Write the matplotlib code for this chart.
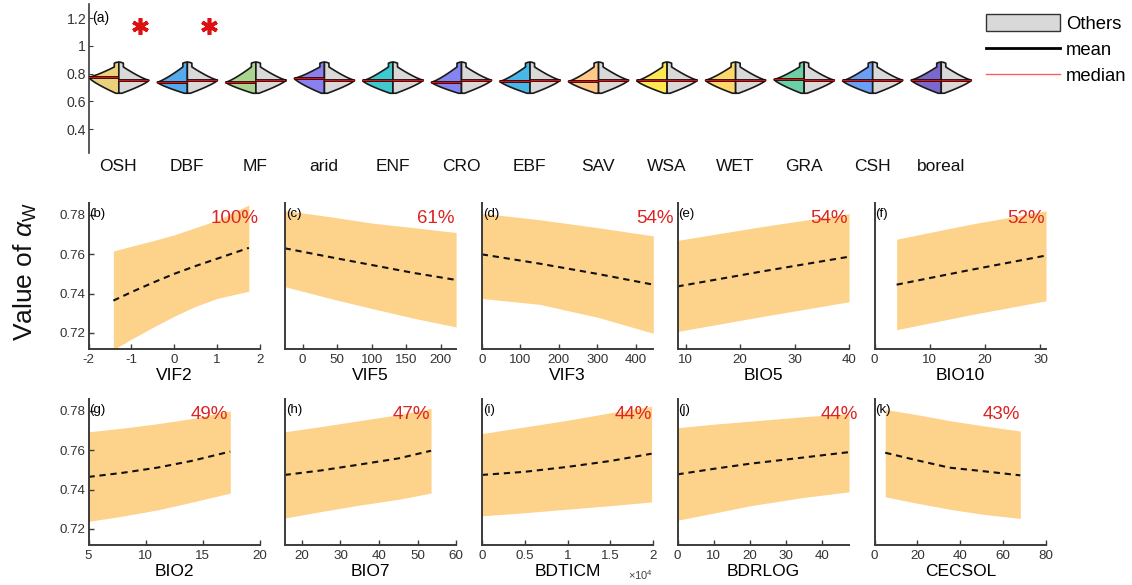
import numpy as np
import matplotlib
matplotlib.use("Agg")
import matplotlib.pyplot as plt
from matplotlib.patches import Patch
from matplotlib.lines import Line2D

plt.rcParams["font.family"] = ["Liberation Sans", "DejaVu Sans"]
plt.rcParams["mathtext.fontset"] = "custom"
plt.rcParams["mathtext.rm"] = "Liberation Sans"
plt.rcParams["mathtext.it"] = "Liberation Sans:italic"
plt.rcParams["axes.unicode_minus"] = False

# ---------------- (a) land-cover classes ----------------
classes = ["OSH", "DBF", "MF", "arid", "ENF", "CRO", "EBF",
           "SAV", "WSA", "WET", "GRA", "CSH", "boreal"]
class_colors = ["#ead27c", "#55aaee", "#a9d58f", "#8a80ee", "#3fc9cf", "#8585f2",
                "#48b6e6", "#ffc98a", "#ffe94f", "#ffd86a", "#6dcfa5", "#6b9ff7", "#7b68cc"]
class_mean = [0.778, 0.742, 0.742, 0.770, 0.752, 0.742, 0.748,
              0.748, 0.752, 0.756, 0.762, 0.752, 0.757]
class_median = [0.776, 0.741, 0.741, 0.768, 0.751, 0.741, 0.747,
                0.747, 0.751, 0.755, 0.761, 0.751, 0.756]
others_mean = [0.756, 0.757, 0.757, 0.756, 0.757, 0.757, 0.757,
               0.757, 0.757, 0.757, 0.757, 0.757, 0.757]
others_median = [0.755, 0.756, 0.756, 0.755, 0.756, 0.756, 0.756,
                 0.756, 0.756, 0.756, 0.756, 0.756, 0.756]
significant = ["OSH", "DBF"]
value_min, value_max = 0.662, 0.887

# ---------------- (b)-(k) partial dependence ----------------
pd_names = ["VIF2", "VIF5", "VIF3", "BIO5", "BIO10",
            "BIO2", "BIO7", "BDTICM", "BDRLOG", "CECSOL"]
pd_tags = ["(b)", "(c)", "(d)", "(e)", "(f)", "(g)", "(h)", "(i)", "(j)", "(k)"]
pd_pct = ["100%", "61%", "54%", "54%", "52%", "49%", "47%", "44%", "44%", "43%"]
pd_x = [
    [-1.42, -1.0, -0.5, 0.0, 0.5, 1.0, 1.74],
    [-26, 40, 100, 160, 222],
    [0, 150, 300, 446],
    [8.5, 24, 40],
    [4, 17, 31],
    [5, 8, 11, 14, 17.4],
    [15.5, 25, 35, 45, 53.5],
    [0, 5000, 10000, 15000, 19800],
    [0, 10, 20, 35, 47.5],
    [5, 20, 35, 50, 68],
]
pd_mean = [
    [0.7364, 0.7407, 0.7455, 0.7500, 0.7540, 0.7577, 0.7632],
    [0.7630, 0.7585, 0.7545, 0.7505, 0.7469],
    [0.7599, 0.7552, 0.7500, 0.7445],
    [0.7436, 0.7512, 0.7587],
    [0.7445, 0.7518, 0.7593],
    [0.7464, 0.7485, 0.7511, 0.7545, 0.7593],
    [0.7474, 0.7497, 0.7527, 0.7558, 0.7597],
    [0.7474, 0.7490, 0.7515, 0.7545, 0.7582],
    [0.7477, 0.7505, 0.7531, 0.7563, 0.7590],
    [0.7587, 0.7548, 0.7511, 0.7494, 0.7472],
]
pd_hi = [
    [0.7616, 0.7640, 0.7668, 0.7698, 0.7735, 0.7772, 0.7850],
    [0.7822, 0.7790, 0.7758, 0.7735, 0.7710],
    [0.7808, 0.7775, 0.7735, 0.7693],
    [0.7670, 0.7740, 0.7806],
    [0.7676, 0.7750, 0.7820],
    [0.7693, 0.7712, 0.7734, 0.7760, 0.7800],
    [0.7693, 0.7720, 0.7750, 0.7780, 0.7812],
    [0.7684, 0.7718, 0.7752, 0.7790, 0.7823],
    [0.7714, 0.7732, 0.7747, 0.7770, 0.7786],
    [0.7807, 0.7780, 0.7750, 0.7725, 0.7697],
]
pd_lo = [
    [0.7115, 0.7168, 0.7228, 0.7285, 0.7335, 0.7375, 0.7412],
    [0.7435, 0.7375, 0.7324, 0.7275, 0.7230],
    [0.7375, 0.7345, 0.7280, 0.7198],
    [0.7207, 0.7283, 0.7358],
    [0.7216, 0.7290, 0.7363],
    [0.7238, 0.7265, 0.7296, 0.7335, 0.7382],
    [0.7255, 0.7288, 0.7321, 0.7350, 0.7382],
    [0.7266, 0.7282, 0.7300, 0.7318, 0.7337],
    [0.7244, 0.7280, 0.7317, 0.7360, 0.7388],
    [0.7363, 0.7330, 0.7300, 0.7275, 0.7253],
]
pd_xlim = [(-2, 2), (-26, 222), (0, 446), (8.5, 40), (0, 31),
           (5, 20), (15.5, 60), (0, 20000), (0, 47.5), (0, 80)]
pd_xticks = [[-2, -1, 0, 1, 2], [0, 50, 100, 150, 200], [0, 100, 200, 300, 400],
             [10, 20, 30, 40], [0, 10, 20, 30], [5, 10, 15, 20],
             [20, 30, 40, 50, 60], [0, 5000, 10000, 15000, 20000],
             [0, 10, 20, 30, 40], [0, 20, 40, 60, 80]]
pd_yticks = [0.72, 0.74, 0.76, 0.78]
pct_xpos = [0.99, 0.99, 1.117, 0.99, 0.995, 0.815, 0.846, 0.994, 1.05, 0.85]

# ---------------- figure ----------------
W, H = 1132, 585
fig = plt.figure(figsize=(W / 100, H / 100), dpi=100)

def fbox(x0, y0, x1, y1):
    return [x0 / W, 1 - y1 / H, (x1 - x0) / W, (y1 - y0) / H]

AX_COL = "#3c3c3c"
BAND = "#fdd28a"
RED = "#dc2424"

# ---- violins ----
ax = fig.add_axes(fbox(89, 4, 975, 153))
half = 0.44

def half_width(v, mode):
    neck_start = 0.852
    t = np.clip((v - mode) / (neck_start - mode), 0, 1)
    w_up = 1 - 0.85 * t ** 0.8
    d = np.clip((mode - v) / (mode - value_min), 0, 1)
    w_dn = 1 - 0.9 * d ** 1.3
    # round the neck cap
    cap = np.clip((value_max - v) / 0.008, 0, 1) ** 0.5
    return np.where(v >= mode, w_up * cap, w_dn)

vv = np.linspace(value_min, value_max, 400)
for i, name in enumerate(classes):
    xc = i + 1
    wl = half * half_width(vv, class_mean[i])
    wr = half * half_width(vv, others_mean[i])
    ax.fill_betweenx(vv, xc - wl, xc, facecolor=class_colors[i],
                     edgecolor="#1a1a1a", linewidth=1.2, zorder=2)
    ax.fill_betweenx(vv, xc, xc + wr, facecolor="#d9d9d9",
                     edgecolor="#1a1a1a", linewidth=1.2, zorder=2)
    for m, md, side in [(class_mean[i], class_median[i], -1),
                        (others_mean[i], others_median[i], 1)]:
        wm = half * float(half_width(np.array([m]), m)[0])
        ax.plot([xc, xc + side * wm], [m, m], color="black", lw=2.0,
                solid_capstyle="butt", zorder=3)
        wd = half * float(half_width(np.array([md]), m)[0])
        ax.plot([xc, xc + side * wd], [md, md], color="#e01010", lw=1.0,
                solid_capstyle="butt", zorder=4)
    if name in significant:
        ax.plot(xc + 0.32, 1.145, marker=(6, 2, 0), ms=12, mew=2.6,
                color="#dd1111", zorder=5)

ax.set_xlim(0.572, 13.5)
ax.set_ylim(0.227, 1.303)
ax.set_xticks(range(1, len(classes) + 1))
ax.set_xticklabels(classes, fontsize=12.5, color="#111111")
ax.set_yticks([0.4, 0.6, 0.8, 1.0, 1.2])
ax.set_yticklabels(["0.4", "0.6", "0.8", "1", "1.2"], fontsize=10.2, color="#333333")
ax.tick_params(axis="x", length=0, pad=4)
ax.tick_params(axis="y", direction="in", length=3, pad=2, color=AX_COL)
for s in ["top", "right", "bottom"]:
    ax.spines[s].set_visible(False)
ax.spines["left"].set_color(AX_COL)
ax.spines["left"].set_linewidth(1.2)
ax.text(0.004, 1.2, "(a)", transform=ax.get_yaxis_transform(), fontsize=10,
        va="center", ha="left")

handles = [Patch(facecolor="#d9d9d9", edgecolor="#333333", linewidth=1.0),
           Line2D([], [], color="black", lw=2.0),
           Line2D([], [], color="#ff5c5c", lw=1.0)]
fig.legend(handles, ["Others", "mean", "median"], loc="upper left",
           bbox_to_anchor=(986 / W, 1 - 14 / H), frameon=False, fontsize=13.3,
           handlelength=4.0, handleheight=1.05, handletextpad=0.32,
           labelspacing=0.4, borderpad=0, borderaxespad=0)

# ---- partial dependence panels ----
col_left = [88.5, 284.6, 481.8, 677.5, 874.5]
panel_w = 171.5
row_top = [203, 399]
panel_h = 146

for k in range(10):
    r, c = divmod(k, 5)
    x0 = col_left[c]
    y0 = row_top[r]
    a = fig.add_axes(fbox(x0, y0, x0 + panel_w, y0 + panel_h))
    a.fill_between(pd_x[k], pd_lo[k], pd_hi[k], color=BAND, lw=0, zorder=1)
    a.plot(pd_x[k], pd_mean[k], color="#111111", lw=1.5,
           linestyle=(0, (3.0, 2.3)), zorder=2)
    a.set_xlim(*pd_xlim[k])
    a.set_ylim(0.7118, 0.786)
    a.set_xticks(pd_xticks[k])
    if k == 7:
        a.set_xticklabels(["0", "0.5", "1", "1.5", "2"])
        a.text(1.0, -0.205, r"$\times10^{4}$", transform=a.transAxes,
               fontsize=8, color="#444444", ha="right", va="center")
    a.set_yticks(pd_yticks)
    if c == 0:
        a.set_yticklabels(["0.72", "0.74", "0.76", "0.78"])
    else:
        a.set_yticklabels([])
        a.tick_params(axis="y", length=0)
    a.tick_params(axis="both", direction="in", labelsize=9.6, labelcolor="#333333",
                  color=AX_COL, width=1.0)
    a.tick_params(axis="x", length=3.5, pad=3.5)
    a.tick_params(axis="y", pad=2.5)
    if c == 0:
        a.tick_params(axis="y", length=3.5)
    for s in ["top", "right"]:
        a.spines[s].set_visible(False)
    for s in ["left", "bottom"]:
        a.spines[s].set_color(AX_COL)
        a.spines[s].set_linewidth(1.4)
    a.set_xlabel(pd_names[k], fontsize=12.5, labelpad=1.5)
    a.text(0.006, 0.925, pd_tags[k], transform=a.transAxes, fontsize=9.5,
           ha="left", va="center")
    a.text(pct_xpos[k], 0.895, pd_pct[k], transform=a.transAxes, fontsize=13.5,
           color=RED, ha="right", va="center")

fig.text(25 / W, 1 - 272 / H, r"Value of $\alpha_{\mathrm{W}}$", rotation=90,
         fontsize=19, ha="center", va="center", color="#111111")

fig.savefig("out.png", dpi=100)
